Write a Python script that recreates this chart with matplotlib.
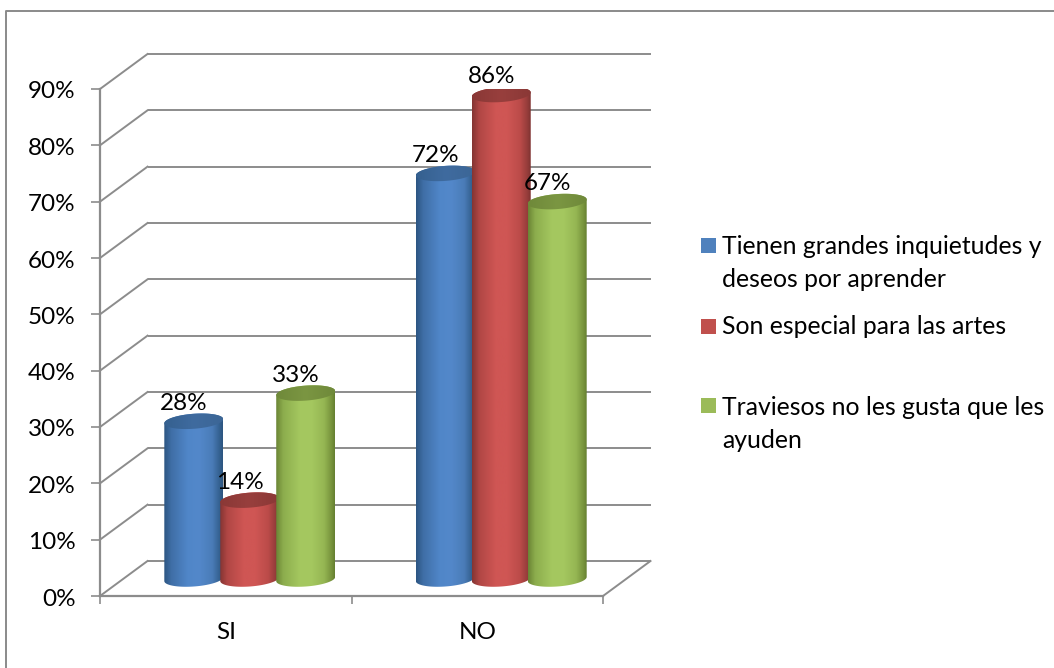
import numpy as np
import matplotlib
matplotlib.use("Agg")
import matplotlib.pyplot as plt
from matplotlib.colors import LinearSegmentedColormap
from matplotlib.patches import Polygon, Rectangle
from matplotlib.transforms import Affine2D

plt.rcParams['font.family'] = ['Lato', 'DejaVu Sans']

categories = ["SI", "NO"]
series_names = ["Tienen grandes inquietudes y\ndeseos por aprender",
                "Son especial para las artes",
                "Traviesos no les gusta que les\nayuden"]
tienen = [28, 72]
son = [14, 86]
traviesos = [33, 67]
series = [tienen, son, traviesos]
yticks = list(range(0, 100, 10))

W, H = 1054, 668
GRID = '#8c8c8c'
FS = 17.5
fig = plt.figure(figsize=(W / 100, H / 100), dpi=100)
ax = fig.add_axes([100 / W, (H - 596) / H, 503 / W, 507 / H])
ax.set_xlim(0, 2)
ax.set_ylim(0, 90)
ax.patch.set_alpha(0)
sx, sy = 503 / 2, 507 / 90

back = ax.transData + Affine2D().translate(47.5, 35)
mid = ax.transData + Affine2D().translate(24, 17)

# walls and floor
ax.hlines(yticks, 0, 2, colors=GRID, lw=1.4, transform=back, zorder=1, clip_on=False)
for v in yticks:
    p0 = ax.transData.transform((0, v))
    line = plt.Line2D([p0[0], p0[0] + 47.5], [p0[1], p0[1] + 35], transform=None,
                      color=GRID, lw=1.4, zorder=1)
    fig.add_artist(line)
p0 = ax.transData.transform((2, 0))
fig.add_artist(plt.Line2D([p0[0], p0[0] + 47.5], [p0[1], p0[1] + 35], transform=None,
                          color=GRID, lw=1.4, zorder=1))

for s in ['top', 'right']:
    ax.spines[s].set_visible(False)
for s in ['left', 'bottom']:
    ax.spines[s].set_color(GRID)
    ax.spines[s].set_linewidth(1.6)
ax.set_xticks([0, 1, 2])
ax.set_xticklabels([])
ax.set_yticks(yticks)
ax.set_yticklabels([f"{v}%" for v in yticks])
ax.tick_params(axis='y', length=6.5, width=1.2, color=GRID, labelsize=FS, pad=11, labelcolor='black')
ax.tick_params(axis='x', length=6, width=1.2, color=GRID)
for lab in ax.get_yticklabels():
    lab.set_transform(lab.get_transform() + Affine2D().translate(0, -1))
for i, c in enumerate(categories):
    ax.text(i + 0.5, 0, c, transform=ax.transData + Affine2D().translate(0, -36.5),
            ha='center', va='center', fontsize=FS)

# cylinders
body_stops = [
    [(0, '#2c5582'), (0.12, '#3f6ea6'), (0.4, '#5086c8'), (0.6, '#5388ca'), (0.82, '#4a7cb8'), (0.95, '#34608f'), (1, '#2d5580')],
    [(0, '#843533'), (0.12, '#b04644'), (0.4, '#cf5654'), (0.6, '#cf5654'), (0.82, '#bb4b49'), (0.95, '#933c3a'), (1, '#7e3331')],
    [(0, '#6b8535'), (0.12, '#8cad4d'), (0.4, '#a4c75f'), (0.6, '#a5c860'), (0.82, '#95b653'), (0.95, '#76923b'), (1, '#667f32')],
]
top_stops = [
    ['#35608f', '#3f6b9f', '#3c6696'],
    ['#8a3836', '#983f3d', '#8a3836'],
    ['#6f893a', '#7b9642', '#6f893a'],
]
bw = 0.2225
a_px, b_px, tilt = bw * sx / 2 + 1.5, 7.5, 0.07
t = np.linspace(0, np.pi, 60)


def ell(cx, v, ts):
    return np.column_stack([cx + a_px * np.cos(ts) / sx,
                            v + (b_px * np.sin(ts) + tilt * a_px * np.cos(ts)) / sy])


for s, vals in enumerate(series):
    for c, v in enumerate(vals):
        cx = c + 0.5 + (s - 1) * bw
        z = 3 + s + 3 * c
        cm = LinearSegmentedColormap.from_list(f"b{s}", body_stops[s])
        body = Polygon(np.vstack([ell(cx, 0, t + np.pi), ell(cx, v, t)]), closed=True,
                       transform=mid, fc='none', ec='none', zorder=z)
        ax.add_patch(body)
        half = a_px / sx
        ext = [cx - half, cx + half, -5, v + 5]
        grad = np.linspace(0, 1, 128).reshape(1, -1)
        im = ax.imshow(grad, cmap=cm, extent=ext, aspect='auto', transform=mid, zorder=z,
                       interpolation='bilinear')
        im.set_clip_path(body)
        cm2 = LinearSegmentedColormap.from_list(f"t{s}", top_stops[s])
        cap = Polygon(np.vstack([ell(cx, v, t), ell(cx, v, t + np.pi)]), closed=True,
                      transform=mid, fc='none', ec='none', zorder=z + 0.1)
        ax.add_patch(cap)
        im2 = ax.imshow(grad, cmap=cm2, extent=ext, aspect='auto', transform=mid, zorder=z + 0.1,
                        interpolation='bilinear')
        im2.set_clip_path(cap)
        ax.annotate(f"{v}%", (cx, v), xycoords=mid, xytext=(-7, 13), textcoords='offset points',
                    ha='center', va='center', fontsize=FS, zorder=20, annotation_clip=False)
ax.set_xlim(0, 2)
ax.set_ylim(0, 90)

# legend
legend_colors = ['#4f81bd', '#c0504d', '#9bbb59']
legend_y = [245, 326, 405]
text_y = [263, 327, 424]
for col, ly, ty, name in zip(legend_colors, legend_y, text_y, series_names):
    fig.add_artist(Rectangle((701 / W, 1 - (ly + 8) / H), 15 / W, 15 / H, transform=fig.transFigure,
                             fc=col, ec='none'))
    fig.text(722 / W, 1 - ty / H, name, ha='left', va='center', fontsize=17.85, linespacing=1.5)

# outer frame
fig.add_artist(plt.Line2D([6 / W, 6 / W, 1], [0, 1 - 10.5 / H, 1 - 10.5 / H],
                          transform=fig.transFigure, color='#8a8a8a', lw=1.4))

fig.savefig("out.png", dpi=100)
